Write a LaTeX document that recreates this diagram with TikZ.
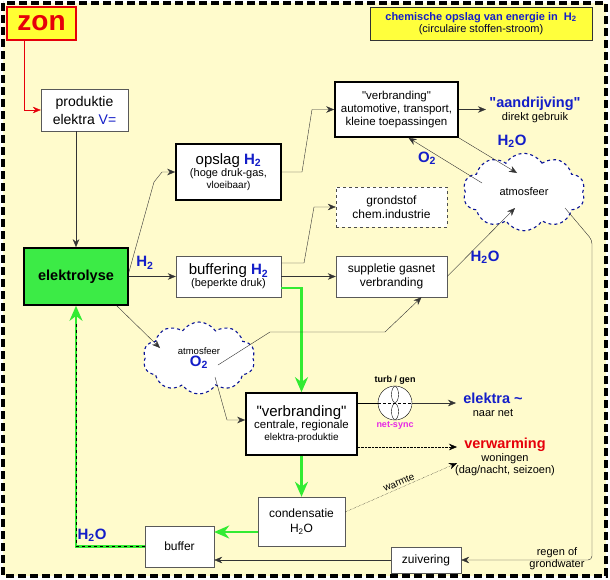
\documentclass[tikz,border=0pt]{standalone}
\usepackage{fontspec}
\setmainfont{Liberation Sans}[Ligatures=TeXOff]
\usepackage{tikz}
\usetikzlibrary{shapes.symbols,arrows.meta}
\usepackage{xcolor}
\definecolor{achtergrond}{RGB}{255,251,204}
\definecolor{zongeel}{RGB}{255,255,51}
\definecolor{titelgeel}{RGB}{255,255,60}
\definecolor{zonrood}{RGB}{230,0,10}
\definecolor{elekgroen}{RGB}{60,235,70}
\definecolor{groenpijl}{RGB}{50,235,50}
\definecolor{tekstblauw}{RGB}{20,30,200}
\definecolor{wolkblauw}{RGB}{10,20,150}
\definecolor{syncpaars}{RGB}{230,40,230}
\newcommand{\fsz}[2]{\fontsize{#1}{#2}\selectfont}

\begin{document}
\begin{tikzpicture}[x=1pt,y=-1pt,
	blok/.style={draw=black!65, fill=white, align=center, inner sep=1pt},
	dikblok/.style={draw=black, fill=white, align=center, inner sep=1pt, line width=1.6pt},
	wolk/.style={cloud, cloud puffs=10, cloud puff arc=115, draw=wolkblauw, dashed, line width=1.1pt, fill=white, align=center, inner sep=0pt},
	pijl/.style={-{Stealth[length=8pt,width=6.5pt]}, black!80},
	groen/.style={-{Stealth[length=15pt,width=13pt]}, groenpijl, line width=2.6pt},
	stip/.style={-{Stealth[length=8pt,width=6.5pt]}, densely dotted},
	blauwlabel/.style={text=tekstblauw, font=\fsz{15}{17}\bfseries}]
			\useasboundingbox (0,0) rectangle (610,579);
			\fill[achtergrond] (3,3) rectangle (606,576);
			\draw[line width=4pt, dash pattern=on 8pt off 4pt] (3,3) rectangle (606,576);
			% blokken
			\node[draw=zonrood, fill=zongeel, line width=1.8pt, minimum width=69pt, minimum height=33pt, inner sep=0pt, text=zonrood, font=\fsz{28}{30}\bfseries] (zon) at (41.5,23.5) {zon};
			\node[blok, draw=black!80, fill=titelgeel, minimum width=222pt, minimum height=33pt, font=\fsz{11}{12}] (titel) at (481,23.5) {\textcolor{tekstblauw}{\textbf{chemische opslag van energie in\ \ H\textsubscript{2}}}\\\textcolor{black!80!blue}{(circulaire stoffen-stroom)}};
			\node[blok, minimum width=87pt, minimum height=42pt, font=\fsz{14}{18}] (prod) at (84.5,110) {produktie\\elektra \textcolor{tekstblauw}{V=}};
			\node[dikblok, minimum width=105pt, minimum height=56pt] (opslag) at (228.5,172) {\fsz{15}{17}opslag \textcolor{tekstblauw}{\textbf{H\textsubscript{2}}}\\\fsz{11}{13}(hoge druk-gas,\\vloeibaar)};
			\node[dikblok, minimum width=123pt, minimum height=55pt, font=\fsz{11.5}{13}] (verbrA) at (396.5,109.5) {"verbranding"\\automotive, transport,\\kleine toepassingen};
			\node[blok, dashed, draw=black!70, minimum width=111pt, minimum height=40pt, font=\fsz{12}{14}] (grond) at (391.5,207) {grondstof\\chem.industrie};
			\node[dikblok, fill=elekgroen, minimum width=104pt, minimum height=57pt, font=\fsz{14.5}{16}\bfseries] (elek) at (76,276.5) {elektrolyse};
			\node[blok, minimum width=105pt, minimum height=41pt] (buff) at (228.5,276.5) {\fsz{15}{17}buffering \textcolor{tekstblauw}{\textbf{H\textsubscript{2}}}\\\fsz{11}{13}(beperkte druk)};
			\node[blok, minimum width=111pt, minimum height=41pt, font=\fsz{12}{14}] (supp) at (391.5,276.5) {suppletie gasnet\\verbranding};
			\node[dikblok, minimum width=111pt, minimum height=62pt] (verbrC) at (301.5,424) {\fsz{15}{17}"verbranding"\\\fsz{11.5}{13}centrale, regionale\\elektra-produktie};
			\node[blok, minimum width=87pt, minimum height=49pt, font=\fsz{12}{15}] (cond) at (301.5,521.5) {condensatie\\H\textsubscript{2}O};
			\node[blok, minimum width=69pt, minimum height=41pt, font=\fsz{12}{14}] (bufr) at (179.5,546.5) {buffer};
			\node[blok, minimum width=70pt, minimum height=26pt, font=\fsz{12}{14}] (zuiv) at (426,560) {zuivering};
			% wolken
			\node[wolk, minimum width=122pt, minimum height=77pt, font=\fsz{11}{13}] (atmA) at (524,192) {atmosfeer};
			\node[wolk, minimum width=112pt, minimum height=72pt] (atmO) at (199,358) {\fsz{9.5}{12}atmosfeer\\\fsz{15}{17}\textcolor{tekstblauw}{\textbf{O\textsubscript{2}}}};
			% turbine
			\node[circle, draw, fill=white, minimum size=34pt, inner sep=0pt,
				label={[font=\fsz{9}{10}\bfseries, inner sep=1pt]above:turb / gen},
				label={[font=\fsz{9}{10}\bfseries, text=syncpaars, inner sep=1pt]below:net-sync}] (turb) at (395,403) {};
			\draw (395,394.5) ellipse [x radius=3.5, y radius=8];
			\draw (395,411.5) ellipse [x radius=3.5, y radius=8];
			\draw[densely dashed] (turb.west) -- (turb.east);
			% teksten
			\node[align=center, font=\fsz{11}{13}] (aandr) at (535,110) {{\fsz{14.5}{16}\bfseries\textcolor{tekstblauw}{"aandrijving"}}\\direkt gebruik};
			\node[align=center, font=\fsz{11}{13}] (elektra) at (493,405) {{\fsz{14.5}{16}\bfseries\textcolor{tekstblauw}{elektra \textasciitilde}}\\naar net};
			\node[align=center, font=\fsz{11}{12.5}] (verw) at (505,457) {{\fsz{14.5}{16}\bfseries\textcolor{zonrood}{verwarming}}\\woningen\\(dag/nacht, seizoen)};
			\node[align=center, font=\fsz{11}{12}] (regen) at (557,559) {regen of\\grondwater};
			\node[blauwlabel] (lblH2) at (145,263) {H\textsubscript{2}};
			\node[blauwlabel] (lblO2) at (427,158) {O\textsubscript{2}};
			\foreach \x/\y [count=\i] in {512/141, 485/257, 92/535}
				\node[blauwlabel] (water\i) at (\x,\y) {H\textsubscript{2}O};
			% punten in de wolken
			\coordinate (naarO) at (160,348);
			\coordinate (uitOa) at (218,365);
			\coordinate (uitOb) at (215,377);
			\coordinate (inA1) at (517,173);
			\coordinate (uitA1) at (482,183);
			\coordinate (inA2) at (515,208);
			\coordinate (uitA2) at (565,208);
			\coordinate (elekIn) at (456,403);
			\coordinate (verwIn) at (457,447);
			\coordinate (warmIn) at (457,463);
			% verbindingen
			\draw[-{Stealth[length=8pt,width=6.5pt]}, zonrood] ([xshift=-17.5pt]zon.south) |- (prod.west);
			\draw[pijl] (prod.south -| elek.north) -- (elek.north);
			\draw[pijl] (elek.east) -- (buff.west);
			\draw[pijl] ([yshift=4pt]elek.east) -- (154,182) -- (162,172) -- (opslag.west);
			\draw[pijl] (opslag.east) -- (302,172) -- (312,109.5) -- (verbrA.west);
			\draw[pijl] (verbrA.east) -- (aandr.west |- verbrA.east);
			\draw[pijl] (verbrA.south east) -- (inA1);
			\draw[pijl] (uitA1) -- ([xshift=12pt]verbrA.south);
			\draw[pijl] ([yshift=13.5pt]buff.east) -- (304,263) -- (314,207) -- (grond.west);
			\draw[pijl] (buff.east) -- (supp.west);
			\draw[groen] ([yshift=-11.5pt]buff.east) -- (301.5,288) -- (verbrC.north);
			\draw[pijl] (supp.east) -- (inA2);
			\draw[pijl, rounded corners=4pt] (uitA2) -- (592,240) -- (592,560) -- (zuiv.east);
			\draw[pijl] (zuiv.west) -- (zuiv.west -| bufr.east);
			\draw[pijl] ([xshift=-12pt]elek.south east) -- (naarO);
			\draw[pijl] (uitOa) -- (270,332) -- (385,332) -- ([xshift=30pt]supp.south);
			\draw[pijl] (uitOb) -- (227,420) -- ([yshift=4pt]verbrC.west);
			\draw[groen] (verbrC.south) -- (cond.north);
			\draw[groen] ([yshift=-10.5pt]cond.west) -- ([yshift=-10.5pt]cond.west -| bufr.east);
			\draw[groen] (bufr.west) -| (elek.south);
			\draw[line width=0.8pt, dashed] (bufr.west) -| ([yshift=-16pt]elek.south);
			\draw (turb.west) -- ([yshift=21pt]verbrC.east);
			\draw[pijl] (turb.east) -- (elekIn);
			\draw[stip] ([yshift=-23pt]verbrC.east) -- (verwIn);
			\draw[stip] ([yshift=9.5pt]cond.east) -- node[sloped, above, inner sep=2pt, font=\fsz{10}{12}] (lblwarm) {warmte} (warmIn);
		\end{tikzpicture}
\end{document}
